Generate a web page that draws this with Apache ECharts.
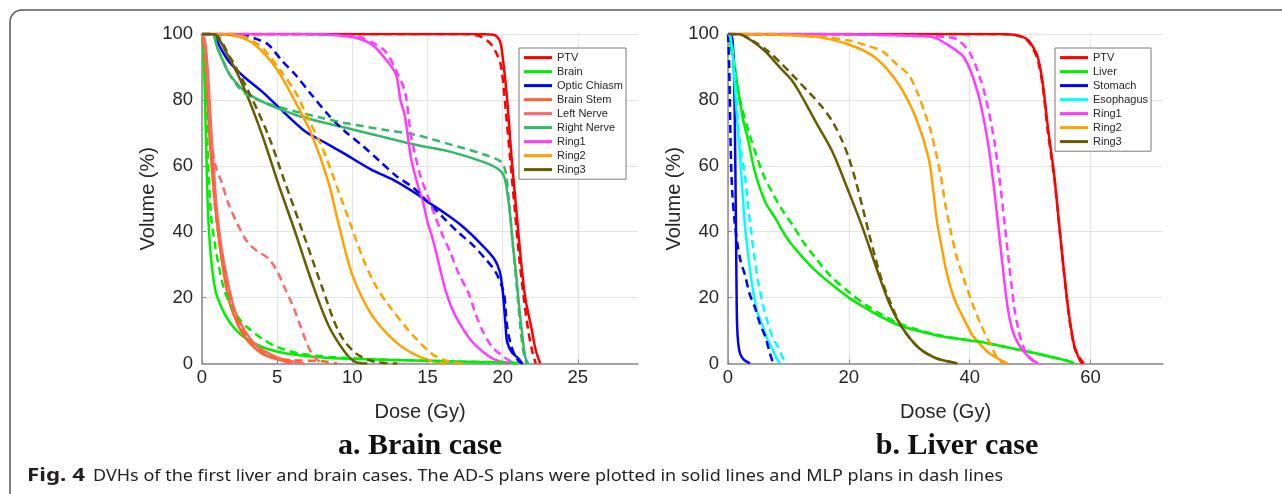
<!DOCTYPE html>
<html>
<head>
<meta charset="utf-8">
<script src="https://cdn.jsdelivr.net/npm/echarts@6/dist/echarts.min.js"></script>
<style>
  html, body { margin: 0; padding: 0; background: #fff; }
  #main { width: 1282px; height: 494px; }
</style>
</head>
<body>
<div id="main"></div>
<script>
// ---- a. Brain case : [dose Gy, volume %] ----
const brainPtvSolid = [[0,100],[18,100],[19.4,99.8],[19.8,98],[20.0,93],[20.3,80],[20.6,62],[20.9,47],[21.2,32],[21.5,20],[21.9,11],[22.2,4],[22.5,0]];
const brainPtvDash = [[0,100],[17.5,100],[18.5,99.3],[19.2,97],[19.6,94],[19.9,90],[20.2,77],[20.5,62],[20.8,47],[21.1,32],[21.4,20],[21.7,10],[22.0,3],[22.2,0]];
const brainBrainSolid = [[0,100],[0.1,95],[0.2,80],[0.3,62],[0.4,46],[0.6,32],[0.9,22],[1.3,17],[1.7,13.5],[2.3,10],[2.9,7.7],[4,5],[5.1,3.5],[6.5,2.5],[8.4,1.7],[12.9,1.1],[17,0.6],[20.5,0.3],[21,0]];
const brainBrainDash = [[0,100],[0.1,96],[0.25,80],[0.4,62],[0.6,45],[0.9,35],[1.1,30],[1.5,22],[2.0,17],[2.4,14],[3.0,11],[4.0,7.5],[5.0,5],[6.5,3],[8.5,2],[12,1.2],[17,0.6],[20.5,0.3],[21,0]];
const brainChiasmSolid = [[0,100],[0.7,100],[1.2,96],[1.8,91.6],[2.8,87],[4.0,82.5],[5.5,76],[6.9,70.3],[8.2,67],[9.5,63.6],[11.2,59],[12.9,55.3],[14.2,51.7],[15.0,49.1],[16.1,45.8],[17.2,42.1],[18.4,37],[19.4,32],[19.8,28],[20.0,22],[20.1,16.9],[20.2,11],[20.3,6.5],[20.6,3.5],[21.0,1.7],[21.3,0]];
const brainChiasmDash = [[0,100],[2.0,100],[2.9,99.5],[3.6,98.5],[4.4,96.8],[5.3,92],[6.2,87.7],[7.3,81.5],[8.4,75.5],[9.5,70.5],[10.7,66],[11.8,61.5],[12.9,57],[14.1,53.2],[15.0,49.1],[16.0,44.5],[17.0,40],[18.0,36],[18.8,32],[19.5,28],[19.9,24],[20.1,21],[20.2,16],[20.3,11],[20.5,6.5],[20.8,2.5],[21.1,0.5],[21.4,0]];
const brainStemSolid = [[0,100],[0.15,95],[0.3,85],[0.5,69],[0.7,57],[0.9,47],[1.2,35],[1.5,26],[1.8,19],[2.2,13.8],[2.7,9],[3.3,5.6],[4,3],[4.7,1.7],[5.5,0.7],[6,0]];
const brainStemDash = [[0,100],[0.2,96],[0.35,85],[0.5,72],[0.7,58],[0.9,46],[1.2,36],[1.5,28],[2.0,18],[2.6,11],[3.3,6.5],[4.2,3],[5,1.5],[6,1],[8,0.7],[9,0]];
const brainLeftNerveSolid = [[0,100],[0.2,98],[0.4,88],[0.6,72],[0.8,58],[1.0,46],[1.3,35],[1.7,25],[2.2,16],[2.9,9.6],[3.6,5.5],[4.4,3.2],[5.2,1.5],[6.2,0.5],[6.8,0]];
const brainLeftNerveDash = [[0,100],[0.2,97],[0.35,88],[0.5,74],[0.7,65],[0.9,60],[1.3,55],[1.8,48],[2.4,42],[3.0,37],[3.7,34],[4.4,32],[5.0,28],[5.5,23],[6.0,18],[6.5,12],[6.9,7],[7.3,3],[7.7,1],[8,0]];
const brainRightNerveSolid = [[0,100],[0.7,100],[1.0,96],[1.3,92.8],[1.8,88],[2.4,84.6],[3.0,82],[4.0,79.5],[5.0,77.5],[6.2,75.5],[8,73.2],[9.5,71.6],[12,68.8],[14.2,66.4],[16.5,64.3],[18.7,61.2],[19.7,59],[20.1,56.7],[20.3,52],[20.5,45],[20.7,35],[20.9,27],[21.1,17],[21.3,9],[21.5,2],[21.7,0]];
const brainRightNerveDash = [[0,100],[0.7,100],[1.0,96],[1.3,93],[1.8,88],[2.4,84],[3.0,81.5],[4.0,79.5],[5.0,78],[6.2,76.5],[8,74.5],[9.5,73],[12,71],[14.2,69.4],[16.5,66.5],[18.7,63.5],[19.9,61.2],[20.2,58],[20.4,50],[20.6,40],[20.8,30],[21.0,20],[21.2,10],[21.4,3],[21.6,0]];
const brainRing1Solid = [[0,100],[6.9,100],[9.5,99.4],[10.5,98.5],[11.3,96.8],[12.1,93],[12.9,87.7],[13.2,80],[13.5,75],[13.9,62.4],[14.3,55],[14.7,49.1],[15.0,43],[15.4,36.9],[16.1,23.9],[16.6,17],[17.2,11.7],[17.9,7],[18.7,3.5],[19.4,1.3],[20.0,0.4],[20.4,0]];
const brainRing1Dash = [[0,100],[7.5,100],[9.5,99.5],[10.5,99],[11.3,97.5],[12.2,94.7],[12.9,89],[13.5,82.5],[13.9,69.4],[14.5,57.3],[15.0,51],[15.4,46],[16.0,39],[16.5,33.9],[17.1,27],[17.7,21.7],[18.2,15],[18.7,9.6],[19.3,5],[19.9,2.6],[20.5,0.8],[20.9,0]];
const brainRing2Solid = [[0,100],[0.9,100],[2.4,99.2],[3.5,96.8],[4.9,89.8],[6.2,79.5],[7.3,69.4],[8.4,55.2],[9.1,42.1],[10.0,26.9],[11.3,14.7],[12.9,6.5],[14.2,2.6],[15.3,0.8],[16.3,0]];
const brainRing2Dash = [[0,100],[1.5,100],[2.9,99],[4.0,95.9],[5.2,89],[6.2,82.5],[7.1,74],[8.0,65.5],[9.1,52.1],[9.9,42],[10.7,32],[11.5,24],[12.4,17.8],[14.0,8.7],[15.4,2.6],[16.5,0.5],[17.5,0]];
const brainRing3Solid = [[0,100],[0.7,100],[1.8,92.8],[2.9,82.5],[4.0,69.4],[5.1,54.2],[6.2,39.9],[7.3,24.8],[8.4,11.7],[9.5,3.5],[10.2,0.5],[11,0]];
const brainRing3Dash = [[0,100],[0.8,100],[1.8,93.5],[3.1,82.5],[4.4,69.4],[5.5,55.2],[6.7,39.9],[8.0,23.0],[9.1,9.6],[10.2,3.2],[11.5,0.5],[13,0]];

// ---- b. Liver case ----
const liverPtvSolid = [[0,100],[45,100],[47.3,99.8],[48.5,99.3],[49.6,98.3],[50.5,96],[51.3,92.8],[52.1,85],[52.9,72.4],[53.5,64],[54.0,57.2],[55.1,36.9],[56.3,16.8],[57.3,5.5],[58.0,2],[58.4,0.5],[58.7,0]];
const liverPtvDash = [[0,100],[45,100],[47.3,99.8],[48.5,99.2],[49.6,98],[50.5,95.5],[51.3,92],[52.1,84],[52.9,71],[53.5,63],[54.1,55],[55.2,35],[56.4,15],[57.4,4.5],[58.3,1.5],[58.9,0]];
const liverLiverSolid = [[0,100],[0.3,98],[0.6,95],[0.9,92.8],[1.3,88],[1.7,82.5],[2.5,74],[3.4,67.3],[4.2,60],[5.1,54.2],[6.3,48.5],[7.8,44.2],[9.6,38.5],[11.6,33.8],[14.3,28.5],[17.3,23.8],[20,20],[22.8,16.8],[25.5,14],[28.3,11.6],[31.3,10],[34.4,8.6],[38,7.5],[41.9,6.5],[46,5],[50.1,3.4],[53.5,2],[56.8,0.5],[57.3,0]];
const liverLiverDash = [[0,100],[0.3,98],[0.7,94],[1.2,88],[1.7,83],[2.3,77.6],[3.4,70.5],[4.5,64.2],[5.8,57.5],[7.3,52.0],[9.0,46.5],[10.7,42.0],[12.6,36.5],[14.5,32.0],[17,26.5],[20.0,21.7],[22.8,17.8],[25.6,14.7],[28.3,12.2],[31.3,10.3],[34.4,8.8],[38,7.6],[41.9,6.5],[46,5],[50.1,3.4],[53.5,2],[56.8,0.5],[57.5,0]];
const liverStomachSolid = [[0,100],[0.5,100],[0.8,97],[1.0,88],[1.15,70],[1.3,45],[1.4,25],[1.5,12],[1.7,6],[2.0,3],[2.6,1.2],[3.4,0.3],[3.6,0]];
const liverStomachDash = [[0,100],[0.1,96],[0.2,90],[0.3,80],[0.45,65],[0.7,52],[1.1,43],[1.5,37],[2.1,31],[2.8,26.9],[3.6,21],[4.5,16.8],[5.3,12],[6.2,8],[6.8,4],[7.3,1],[7.5,0]];
const liverEsophagusSolid = [[0,100],[0.4,99],[0.8,93],[1.2,82.5],[1.6,72],[2.0,62.4],[2.4,52],[2.8,42.0],[3.4,32],[4.0,23.8],[4.8,16],[5.7,11.6],[6.5,7.5],[7.3,4.6],[7.9,2],[8.4,0.5],[8.6,0]];
const liverEsophagusDash = [[0,100],[0.4,99],[0.9,93],[1.3,84],[1.7,72],[2.2,64],[2.8,57.2],[3.2,50],[3.7,42.0],[4.4,32],[5.1,23.8],[5.9,17],[6.7,11.6],[7.5,7.5],[8.4,4.6],[9.0,2],[9.5,0.5],[9.7,0]];
const liverRing1Solid = [[0,100],[10,100],[20,99.9],[28,99.6],[33.6,99.2],[36.3,96.8],[39.1,92.8],[41.3,82.5],[43.0,67.3],[44.1,52.1],[45.2,33.9],[46.3,16.8],[47.1,10],[47.9,6.5],[49,3.5],[50.1,1.6],[51.3,0]];
const liverRing1Dash = [[0,100],[10,100],[20,99.9],[30,99.6],[36,99.1],[38.0,98.3],[40.2,93.7],[42.4,82.5],[44.1,67.3],[45.2,52.1],[46.3,33.9],[47.4,16.8],[48.1,10],[48.8,5.5],[49.7,2],[50.7,0.5],[51.2,0]];
const liverRing2Solid = [[0,100],[2,100],[8,99.8],[14.5,99.2],[20.0,96.8],[24.4,92.8],[28.3,84.6],[31.1,74.5],[33.2,62.4],[34.0,52],[34.6,43],[35.4,35],[36.3,26.8],[37.6,19],[39.0,13.7],[40.5,8.5],[41.9,5.5],[43.3,3],[44.6,1.6],[46.3,0]];
const liverRing2Dash = [[0,100],[3,100],[10,99.7],[16,99],[20,98],[23,96.5],[25.6,94.7],[27.8,91],[29.9,87.6],[31.4,82],[32.7,75.4],[33.5,71],[34.4,64.2],[35.2,57.2],[36.0,48],[36.9,39.9],[37.9,32],[39.0,25.9],[40.5,18],[41.9,11.6],[43.5,5.5],[44.6,1.6],[45.5,0]];
const liverRing3Solid = [[0,100],[1.7,100],[3.5,98.5],[6.2,94.7],[8.5,90],[10.7,85.6],[12.7,79.5],[14.5,73.4],[17.3,64.2],[20.0,52.0],[22.3,41.1],[24.4,29.9],[26.6,18.7],[28.9,10.7],[31.6,4.7],[34.4,1.6],[36.5,0.6],[38,0]];
const liverRing3Dash = [[0,100],[1.7,100],[4,98],[6.5,95],[9.0,90.7],[11.2,86.5],[13.3,82.5],[15.5,78],[17.3,73.4],[18.8,68],[20.0,62.4],[21.2,55],[22.3,47.2],[23.4,39],[24.4,32.0],[25.5,25],[26.6,19.8],[27.7,15],[28.9,10.7],[31.6,4.7],[34.4,1.6],[36.5,0.6],[38,0]];

// legend names and colours
const brainNames = ['PTV', 'Brain', 'Optic Chiasm', 'Brain Stem', 'Left Nerve', 'Right Nerve', 'Ring1', 'Ring2', 'Ring3'];
const brainColors = ['#ff0000', '#00f000', '#0000ff', '#ff6233', '#ff6868', '#35b968', '#ff3cff', '#ffa200', '#665c00'];
const brainSolid = [brainPtvSolid, brainBrainSolid, brainChiasmSolid, brainStemSolid, brainLeftNerveSolid, brainRightNerveSolid, brainRing1Solid, brainRing2Solid, brainRing3Solid];
const brainDash = [brainPtvDash, brainBrainDash, brainChiasmDash, brainStemDash, brainLeftNerveDash, brainRightNerveDash, brainRing1Dash, brainRing2Dash, brainRing3Dash];

const liverNames = ['PTV', 'Liver', 'Stomach', 'Esophagus', 'Ring1', 'Ring2', 'Ring3'];
const liverColors = ['#ff0000', '#00f000', '#0000ff', '#00ffff', '#ff3cff', '#ffa200', '#665c00'];
const liverSolid = [liverPtvSolid, liverLiverSolid, liverStomachSolid, liverEsophagusSolid, liverRing1Solid, liverRing2Solid, liverRing3Solid];
const liverDash = [liverPtvDash, liverLiverDash, liverStomachDash, liverEsophagusDash, liverRing1Dash, liverRing2Dash, liverRing3Dash];

const doseTicksBrain = { min: 0, max: 29, interval: 5 };
const doseTicksLiver = { min: 0, max: 72, interval: 20 };
const volumeTicks = { min: 0, max: 100, interval: 20 };

const FONT = '"Liberation Sans", Arial, sans-serif';
const TXT = '#262626';

// 曲线
function curve(name, color, data, dashed, idx) {
  return {
    type: 'line',
    name: name,
    data: data,
    xAxisIndex: idx,
    yAxisIndex: idx,
    symbol: 'none',
    smooth: 0.3,
    silent: true,
    lineStyle: { color: color, width: 2.5, type: dashed ? [8, 5] : 'solid' },
    itemStyle: { color: color }
  };
}

function buildSeries(names, colors, solid, dash, idx) {
  let out = [];
  names.forEach((n, i) => out.push(curve(n, colors[i], solid[i], false, idx)));
  names.forEach((n, i) => out.push(curve(n, colors[i], dash[i], true, idx)));
  return out;
}

function xAxis(idx, ticks) {
  return {
    gridIndex: idx, type: 'value', min: ticks.min, max: ticks.max, interval: ticks.interval,
    name: 'Dose (Gy)', nameLocation: 'middle', nameGap: 39,
    nameTextStyle: { fontSize: 20, color: TXT, fontFamily: FONT },
    axisLine: { show: true, onZero: false, lineStyle: { color: '#8a8a8a', width: 1.5 } },
    axisTick: { show: true, inside: true, length: 4, lineStyle: { color: '#8a8a8a' } },
    axisLabel: { fontSize: 18.5, color: TXT, fontFamily: FONT, margin: 5, showMaxLabel: false },
    splitLine: { show: true, showMaxLine: false, lineStyle: { color: '#e4e4e4', width: 1 } }
  };
}

function yAxis(idx) {
  return {
    gridIndex: idx, type: 'value', min: volumeTicks.min, max: volumeTicks.max, interval: volumeTicks.interval,
    name: 'Volume (%)', nameLocation: 'middle', nameGap: 38,
    nameTextStyle: { fontSize: 20, color: TXT, fontFamily: FONT },
    axisLine: { show: true, onZero: false, lineStyle: { color: '#8a8a8a', width: 1.5 } },
    axisTick: { show: true, inside: true, length: 4, lineStyle: { color: '#8a8a8a' } },
    axisLabel: { fontSize: 18.5, color: TXT, fontFamily: FONT, margin: 9 },
    splitLine: { show: true, lineStyle: { color: '#e4e4e4', width: 1 } }
  };
}

function legend(names, left) {
  return {
    data: names, left: left, top: 48, orient: 'vertical', selectedMode: false,
    icon: 'rect', itemWidth: 28, itemHeight: 3, itemGap: 0, padding: [2.6, 3, 2.6, 5],
    backgroundColor: '#fff', borderColor: '#7a7a7a', borderWidth: 1,
    textStyle: { fontSize: 11, lineHeight: 14, color: TXT, fontFamily: FONT }
  };
}

// 文本宽度
function textWidth(text, font) {
  let ctx = document.createElement('canvas').getContext('2d');
  ctx.font = font;
  return ctx.measureText(text).width;
}

const captionBoldFont = 'bold 17px "Noto Sans", sans-serif';
const captionFont = '17px "Noto Sans", sans-serif';
const captionText = 'DVHs of the first liver and brain cases. The AD-S plans were plotted in solid lines and MLP plans in dash lines';
const capBoldScale = 58 / textWidth('Fig. 4', captionBoldFont);
const capScale = 910 / textWidth(captionText, captionFont);

let myChart = echarts.init(document.getElementById('main'), null, { renderer: 'canvas' });
let option = {
  animation: false,
  backgroundColor: '#fff',
  grid: [
    { left: 202, top: 34, width: 436, height: 329.5 },
    { left: 728, top: 34, width: 435, height: 329.5 }
  ],
  xAxis: [xAxis(0, doseTicksBrain), xAxis(1, doseTicksLiver)],
  yAxis: [yAxis(0), yAxis(1)],
  legend: [legend(brainNames, 519), legend(liverNames, 1055)],
  series: buildSeries(brainNames, brainColors, brainSolid, brainDash, 0)
    .concat(buildSeries(liverNames, liverColors, liverSolid, liverDash, 1)),
  graphic: [
    {
      type: 'rect', silent: true,
      shape: { x: 10, y: 10, width: 1300, height: 520, r: 12 },
      style: { fill: 'none', stroke: '#555', lineWidth: 1.5 }
    },
    {
      type: 'text', x: 420, y: 446,
      style: { text: 'a. Brain case', font: 'bold 30px "Liberation Serif", "Times New Roman", serif', fill: '#111', align: 'center', verticalAlign: 'middle' }
    },
    {
      type: 'text', x: 957, y: 446,
      style: { text: 'b. Liver case', font: 'bold 30px "Liberation Serif", "Times New Roman", serif', fill: '#111', align: 'center', verticalAlign: 'middle' }
    },
    {
      type: 'text', x: 27, y: 476, scaleX: capBoldScale,
      style: { text: 'Fig. 4', font: captionBoldFont, fill: '#231f20', align: 'left', verticalAlign: 'middle' }
    },
    {
      type: 'text', x: 93, y: 476, scaleX: capScale,
      style: { text: captionText, font: captionFont, fill: '#231f20', align: 'left', verticalAlign: 'middle' }
    }
  ]
};
myChart.setOption(option);
</script>
</body>
</html>
